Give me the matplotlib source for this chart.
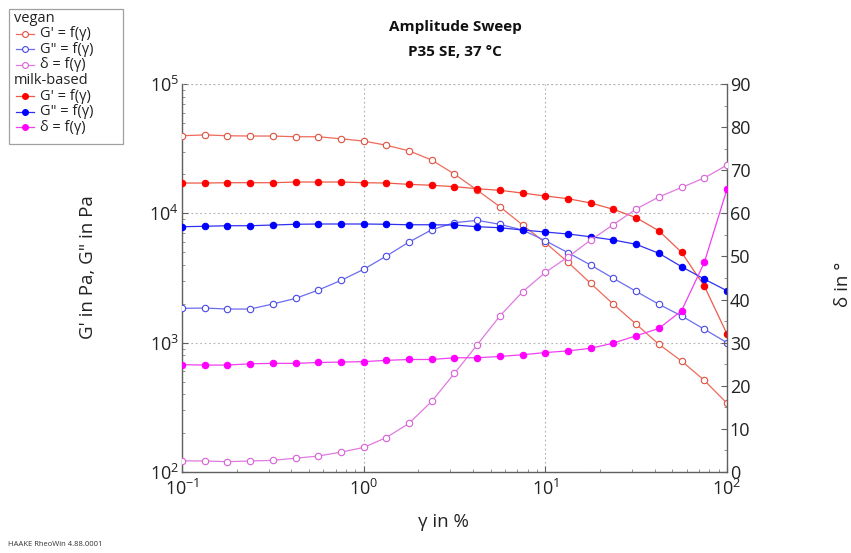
import numpy as np
import matplotlib
matplotlib.use("Agg")
import matplotlib.pyplot as plt
from matplotlib.lines import Line2D
from matplotlib.patches import Rectangle
from matplotlib.ticker import LogLocator, LogFormatterMathtext, MultipleLocator, NullFormatter

plt.rcParams['font.family'] = ['Open Sans', 'DejaVu Sans']

# strain amplitude gamma in %
strain = [0.1, 0.1334, 0.1778, 0.2371, 0.3162, 0.4217, 0.5623, 0.7499, 1.0,
          1.334, 1.778, 2.371, 3.162, 4.217, 5.623, 7.499, 10.0,
          13.34, 17.78, 23.71, 31.62, 42.17, 56.23, 74.99, 100.0]

vegan_Gp = [39800, 40400, 39800, 39600, 39600, 39100, 39100, 37700, 36200,
            33600, 30400, 25800, 20100, 15100, 11250, 8120, 5930,
            4180, 2870, 1980, 1390, 971, 721, 511, 340]
vegan_Gpp = [1842, 1853, 1820, 1820, 1990, 2200, 2550, 3030, 3690,
             4680, 6000, 7470, 8460, 8830, 8220, 7430, 6140,
             4960, 3980, 3140, 2490, 1980, 1610, 1270, 1000]
vegan_delta = [2.6, 2.55, 2.4, 2.55, 2.7, 3.2, 3.7, 4.6, 5.7,
               8.0, 11.3, 16.4, 22.9, 29.5, 36.2, 41.8, 46.3,
               49.9, 53.8, 57.4, 61.0, 63.8, 66.0, 68.2, 71.2]

milk_Gp = [17150, 17150, 17250, 17250, 17250, 17460, 17460, 17460, 17250,
           17150, 16750, 16480, 16070, 15500, 15060, 14350, 13610,
           12980, 12020, 10740, 9250, 7330, 4990, 2740, 1167]
milk_Gpp = [7880, 7940, 8020, 8020, 8120, 8230, 8270, 8270, 8270,
            8230, 8160, 8160, 8120, 7880, 7740, 7430, 7170,
            6920, 6590, 6220, 5760, 4910, 3870, 3100, 2520]
milk_delta = [24.9, 24.8, 24.8, 25.1, 25.2, 25.2, 25.4, 25.5, 25.6,
              25.9, 26.1, 26.1, 26.5, 26.5, 26.8, 27.2, 27.7,
              28.1, 28.7, 29.9, 31.6, 33.3, 37.4, 48.6, 65.6]

# colours: (line, marker)
c_vGp = ('#ee6a5a', '#e0503c')
c_vGpp = ('#6c6cf0', '#4848e8')
c_vd = ('#e07ae0', '#d860d8')
c_mGp = ('#ee5a4a', '#ff0000')
c_mGpp = ('#3030f0', '#0000ff')
c_md = ('#f040f0', '#ff00ff')

fig = plt.figure(figsize=(8.51, 5.53), dpi=100)
ax = fig.add_axes([182/851, 1-472/553, (727-182)/851, (472-84)/553])
ax2 = ax.twinx()

ms = 4.6
lw = 0.9

def plot_series(a, x, y, col, filled):
    a.plot(x, y, '-', color=col[0], lw=lw, zorder=2)
    if filled:
        a.plot(x, y, 'o', ms=ms, mfc=col[1], mec=col[1], mew=0.8, ls='none', zorder=3)
    else:
        a.plot(x, y, 'o', ms=ms, mfc='white', mec=col[1], mew=0.8, ls='none', zorder=3)

plot_series(ax, strain, vegan_Gp, c_vGp, False)
plot_series(ax, strain, vegan_Gpp, c_vGpp, False)
plot_series(ax, strain, milk_Gp, c_mGp, True)
plot_series(ax, strain, milk_Gpp, c_mGpp, True)
plot_series(ax2, strain, vegan_delta, c_vd, False)
plot_series(ax2, strain, milk_delta, c_md, True)

ax.set_xscale('log')
ax.set_yscale('log')
ax.set_xlim(0.1, 100)
ax.set_ylim(100, 1e5)
ax2.set_ylim(0, 90)

ax.xaxis.set_major_locator(LogLocator(base=10, numticks=10))
ax.xaxis.set_major_formatter(LogFormatterMathtext())
ax.yaxis.set_major_locator(LogLocator(base=10, numticks=10))
ax.yaxis.set_major_formatter(LogFormatterMathtext())
ax.xaxis.set_minor_locator(LogLocator(base=10, subs=np.arange(2, 10), numticks=20))
ax.yaxis.set_minor_locator(LogLocator(base=10, subs=np.arange(2, 10), numticks=20))
ax.xaxis.set_minor_formatter(NullFormatter())
ax.yaxis.set_minor_formatter(NullFormatter())
ax2.yaxis.set_major_locator(MultipleLocator(10))
ax2.yaxis.set_minor_locator(MultipleLocator(5))

ax.grid(True, which='major', ls=(0, (1.5, 2.5)), color='#b0b0b0', lw=0.8)
ax.set_axisbelow(True)

for a in (ax, ax2):
    a.spines['top'].set_visible(False)
    for s in ('left', 'right', 'bottom'):
        a.spines[s].set_color('#606060')
        a.spines[s].set_linewidth(1.0)
ax.spines['right'].set_visible(False)
ax2.spines['left'].set_visible(False)
ax2.spines['bottom'].set_visible(False)

ax.tick_params(which='major', direction='in', length=4, color='#606060',
               labelsize=13, pad=2, top=False, right=False, labelcolor='#222222')
ax.tick_params(axis='x', which='major', pad=5)
ax.tick_params(which='minor', direction='in', length=2.5, color='#808080', top=False, right=False)
ax2.tick_params(which='major', direction='in', length=4, color='#606060',
                labelsize=13, pad=2, labelcolor='#222222')
ax2.tick_params(which='minor', direction='in', length=2.5, color='#808080')

# top border as dotted grid line
ax.axhline(1e5, ls=(0, (1.5, 2.5)), color='#b0b0b0', lw=0.8, zorder=1)

W, H = 851, 553
def fx(px):
    return px / W
def fy(py):
    return 1 - py / H

lab_fs = 13.5
fig.text(fx(443), fy(522), 'γ in %', ha='center', va='center', fontsize=lab_fs, color='#222222')
fig.text(fx(88), fy(267), "G' in Pa, G\" in Pa", ha='center', va='center', rotation=90,
         fontsize=lab_fs, color='#222222')
fig.text(fx(843), fy(284), 'δ in °', ha='center', va='center', rotation=90,
         fontsize=lab_fs, color='#222222')

fig.text(fx(455), fy(27), 'Amplitude Sweep', ha='center', va='center',
         fontsize=11, fontweight='bold', color='#111111')
fig.text(fx(455), fy(52), 'P35 SE, 37 °C', ha='center', va='center',
         fontsize=11, fontweight='bold', color='#111111')
fig.text(fx(8), fy(548), 'HAAKE RheoWin 4.88.0001', ha='left', va='bottom',
         fontsize=5.5, color='#333333')

# legend drawn manually in figure pixel coordinates
fig.add_artist(Rectangle((fx(9), fy(144)), fx(123) - fx(9), fy(9) - fy(144),
                         transform=fig.transFigure, fill=True, facecolor='white',
                         edgecolor='#a0a0a0', lw=0.9))
entries = [
    ('vegan', None, None),
    ("G' = f(γ)", c_vGp, False),
    ('G" = f(γ)', c_vGpp, False),
    ('δ = f(γ)', c_vd, False),
    ('milk-based', None, None),
    ("G' = f(γ)", c_mGp, True),
    ('G" = f(γ)', c_mGpp, True),
    ('δ = f(γ)', c_md, True),
]
y0 = 18
dy = 15.6
for i, (lab, col, filled) in enumerate(entries):
    yy = y0 + i * dy
    if col is None:
        fig.text(fx(14), fy(yy), lab, ha='left', va='center', fontsize=10.5, color='#222222')
    else:
        fig.add_artist(Line2D([fx(16), fx(34)], [fy(yy), fy(yy)], transform=fig.transFigure,
                              color=col[0], lw=lw))
        fig.add_artist(Line2D([fx(25)], [fy(yy)], transform=fig.transFigure, marker='o',
                              ms=ms - 0.4, mfc=(col[1] if filled else 'white'), mec=col[1],
                              mew=0.8, ls='none'))
        fig.text(fx(40), fy(yy), lab, ha='left', va='center', fontsize=10.5, color='#222222')

fig.savefig('out.png', dpi=100)
